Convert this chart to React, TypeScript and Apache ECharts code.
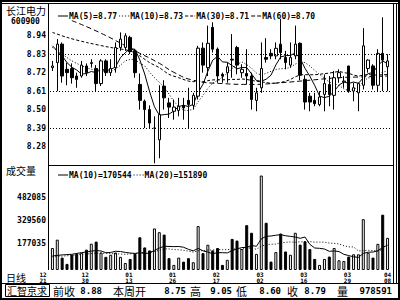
import { useEffect, useRef } from 'react';
import * as echarts from 'echarts';

const stockName = '长江电力';
const stockCode = '600900';
const volumeTitle = '成交量';
const periodLabel = '日线';
const brokerName = '汇智京求';

const opens = [
  8.75, 8.78, 8.89, 8.74, 8.745, 8.70, 8.70, 8.76, 8.775, 8.745,
  8.655, 8.79, 8.72, 8.75, 8.87, 8.87, 8.93, 8.85, 8.65, 8.55,
  8.50, 8.39, 8.32, 8.64, 8.54, 8.49, 8.495, 8.525, 8.555, 8.525,
  8.58, 8.866, 8.75, 8.99, 8.86, 8.71, 8.72, 8.80, 8.87, 8.72,
  8.715, 8.70, 8.555, 8.63, 8.81, 8.835, 8.82, 8.89, 8.81, 8.765,
  8.82, 8.895, 8.68, 8.58, 8.555, 8.53, 8.59, 8.65, 8.585, 8.69,
  8.665, 8.76, 8.61, 8.60, 8.645, 8.745, 8.76, 8.645, 8.835, 8.755,
];
const closes = [
  8.76, 8.89, 8.70, 8.72, 8.69, 8.68, 8.765, 8.72, 8.78, 8.655,
  8.79, 8.72, 8.745, 8.87, 8.92, 8.94, 8.845, 8.72, 8.555, 8.50,
  8.42, 8.39, 8.47, 8.57, 8.515, 8.515, 8.52, 8.51, 8.53, 8.585,
  8.866, 8.765, 8.895, 8.86, 8.70, 8.70, 8.755, 8.795, 8.765, 8.74,
  8.70, 8.56, 8.60, 8.745, 8.80, 8.82, 8.865, 8.84, 8.78, 8.81,
  8.89, 8.705, 8.545, 8.545, 8.535, 8.575, 8.655, 8.59, 8.69, 8.72,
  8.67, 8.61, 8.63, 8.655, 8.88, 8.795, 8.645, 8.835, 8.795, 8.79,
];
const lows = [
  8.73, 8.61, 8.66, 8.645, 8.655, 8.63, 8.69, 8.70, 8.75, 8.605,
  8.64, 8.70, 8.70, 8.72, 8.85, 8.85, 8.83, 8.69, 8.50, 8.39,
  8.39, 8.18, 8.21, 8.50, 8.45, 8.44, 8.46, 8.44, 8.39, 8.50,
  8.56, 8.72, 8.70, 8.84, 8.66, 8.66, 8.66, 8.69, 8.71, 8.69,
  8.65, 8.50, 8.49, 8.60, 8.78, 8.80, 8.80, 8.80, 8.74, 8.75,
  8.80, 8.675, 8.50, 8.49, 8.52, 8.52, 8.49, 8.52, 8.50, 8.66,
  8.63, 8.60, 8.55, 8.49, 8.62, 8.72, 8.62, 8.61, 8.61, 8.61,
];
const highs = [
  8.79, 8.92, 8.90, 8.78, 8.775, 8.72, 8.79, 8.775, 8.80, 8.765,
  8.80, 8.80, 8.80, 8.90, 8.96, 8.955, 8.94, 8.86, 8.715, 8.56,
  8.525, 8.46, 8.645, 8.675, 8.57, 8.56, 8.57, 8.57, 8.63, 8.60,
  8.88, 8.90, 9.00, 9.02, 8.87, 8.72, 8.78, 8.95, 8.88, 8.77,
  8.86, 8.72, 8.63, 8.90, 8.925, 8.86, 8.90, 9.04, 8.85, 8.90,
  9.00, 8.90, 8.705, 8.60, 8.60, 8.61, 8.71, 8.70, 8.73, 8.74,
  8.70, 8.76, 8.66, 8.66, 8.985, 8.80, 8.77, 8.86, 9.05, 8.83,
];
const volumes = [
  147000, 203000, 83000, 41000, 102000, 108000, 115000, 136000, 176000, 190000,
  117000, 88000, 102000, 117000, 88000, 47000, 74000, 108000, 219000, 151000,
  131000, 278000, 253000, 237000, 79000, 34000, 83000, 56000, 79000, 52000,
  294000, 113000, 169000, 131000, 147000, 34000, 68000, 208000, 197000, 140000,
  300000, 249000, 108000, 632000, 316000, 56000, 120000, 244000, 124000, 102000,
  249000, 170000, 192000, 140000, 74000, 34000, 74000, 90000, 147000, 65000,
  60000, 90000, 105000, 105000, 340000, 115000, 83000, 175000, 370000, 215000,
];

// moving-average values read off the picture where the window has no data yet
const ma5Lead: [number, number][] = [[0, 8.88], [1, 8.85], [2, 8.82], [3, 8.78]];
const ma10Lead: [number, number][] = [[0, 8.87], [2, 8.83], [4, 8.79], [6, 8.76], [8, 8.74]];
const ma30Lead: [number, number][] = [
  [0, 8.96], [3, 8.93], [7, 8.90], [12, 8.87], [16, 8.85], [18, 8.82],
  [20, 8.78], [22, 8.75], [24, 8.71], [26, 8.69], [28, 8.67],
];
const ma60Read: [number, number][] = [
  [4, 9.03], [10, 8.955], [17, 8.85], [22, 8.776], [25, 8.722], [29, 8.675],
  [35, 8.655], [41, 8.65], [47, 8.66], [53, 8.675], [59, 8.69], [64, 8.695], [69, 8.70],
];
const volMa10Lead: [number, number][] = [[0, 94000], [2, 101000], [4, 105000], [6, 116000], [8, 126000]];
const volMa20Lead: [number, number][] = [
  [0, 88000], [3, 95000], [6, 104000], [9, 113000], [12, 110000], [15, 105000], [18, 113000],
];

const gridPrices = [8.83, 8.61, 8.39];
const priceLegend: [string, string][] = [['MA(5)', '8.77'], ['MA(10)', '8.73'], ['MA(30)', '8.71'], ['MA(60)', '8.70']];
const volumeLegend: [string, string][] = [['MA(10)', '170544'], ['MA(20)', '151890']];
const dateTicks: [number, string, string][] = [
  [-3, '12', '21'], [6, '12', '30'], [15, '01', '13'], [24, '01', '26'], [33, '02', '17'],
  [42, '03', '02'], [51, '03', '16'], [60, '03', '29'], [69, '04', '08'],
];
const statusLabels = ['前收', '本周开', '高', '低', '收', '量'];
const statusValues = ['8.88', '8.75', '9.05', '8.60', '8.79', '978591'];

const MONO = 'DejaVu Sans Mono';
const CJK = 'Noto Sans CJK SC';

const ICON_SOLID = 'path://M0 0H10V1H0Z';
const ICON_DOT = 'path://M0 0H1V1H0Z M3 0H4V1H3Z M6 0H7V1H6Z M9 0H10V1H9Z';
const ICON_SHORTDASH = 'path://M0 0H3V1H0Z M5 0H8V1H5Z M9.5 0H10V1H9.5Z';
const ICON_DASH = 'path://M0 0H4V1H0Z M6 0H10V1H6Z';

function withMovingAverage(values: number[], n: number, lead: [number, number][]) {
  const out: [number, number][] = lead.slice();
  for (let i = n - 1; i < values.length; i++) {
    let s = 0;
    for (let k = i - n + 1; k <= i; k++) s += values[k];
    out.push([i, s / n]);
  }
  return out;
}

function buildOption() {
  const categories = closes.map((_, i) => String(i));
  const tickMap: Record<number, string> = {};
  dateTicks.forEach(([i, m, d]) => { if (i >= 0) tickMap[i] = m + '\n' + d; });
  const firstTick = dateTicks.find((t) => t[0] < 0)!;

  const priceIcons = [ICON_SOLID, ICON_DOT, ICON_SHORTDASH, ICON_DASH];
  const volNames = ['VMA10', 'VMA20'];
  const volIcons = [ICON_SOLID, ICON_DOT];

  const lineBase = (name: string, data: any, type: any, grid: number, smooth: any = false) => ({
    name, type: 'line', data, xAxisIndex: grid, yAxisIndex: grid,
    symbol: 'none', showSymbol: false, smooth, silent: true,
    lineStyle: { color: '#000', width: 1, type },
    itemStyle: { color: '#000' },
    z: 3,
  });

  const txt = (text: string, x: number, y: number, size: number, family: string, extra: any = {}) => ({
    type: 'text', x, y, silent: true,
    style: {
      text, fontSize: size, fontFamily: family, fill: '#000', lineHeight: size,
      align: 'left', verticalAlign: 'middle', ...extra,
    },
  });
  const ln = (x1: number, y1: number, x2: number, y2: number, w = 1) => ({
    type: 'line', silent: true, shape: { x1, y1, x2, y2 }, style: { stroke: '#000', lineWidth: w },
  });

  const statusX = [53, 113, 190, 236, 287, 337];
  const statusRight = [102, 186, 232, 281, 326, 392];
  const statusEls: any[] = [];
  statusLabels.forEach((l, k) => {
    statusEls.push(txt(l, statusX[k], 290.5, 11, CJK));
    statusEls.push(txt(statusValues[k], statusRight[k], 290.5, 9, MONO, { align: 'right', fontWeight: 'bold' }));
  });

  const legendText = { fontFamily: MONO, fontWeight: 'bold', fontSize: 8, color: '#000', padding: [0, 0, 0, -4] };

  return {
    animation: false,
    backgroundColor: '#fff',
    grid: [
      { left: 50, width: 340, top: 3, height: 162, outerBoundsMode: 'none', containLabel: false },
      { left: 50, width: 340, top: 165, height: 124.13, outerBoundsMode: 'none', containLabel: false },
    ],
    xAxis: [
      {
        type: 'category', gridIndex: 0, data: categories, boundaryGap: true,
        axisLine: { show: false }, axisTick: { show: false }, axisLabel: { show: false }, splitLine: { show: false },
      },
      {
        type: 'category', gridIndex: 1, data: categories, boundaryGap: true, offset: -19.13,
        axisLine: { show: false, onZero: false }, axisTick: { show: false }, splitLine: { show: false },
        axisLabel: {
          interval: (i: number) => tickMap[i] !== undefined,
          formatter: (_v: string, i: number) => tickMap[i] || '',
          fontFamily: MONO, fontWeight: 'bold', fontSize: 6, lineHeight: 5.5,
          color: '#000', margin: 2, align: 'left', alignMaxLabel: 'center',
          verticalAlign: 'top', showMaxLabel: true, hideOverlap: false,
        },
      },
    ],
    yAxis: [
      {
        type: 'value', gridIndex: 0, min: 8.17, max: 9.135, interval: 0.11, scale: true,
        axisLine: { show: false }, axisTick: { show: false }, splitLine: { show: false },
        axisLabel: {
          formatter: (v: number) => (v < 8.2 || v > 9.0 ? '' : v.toFixed(2)),
          fontFamily: MONO, fontWeight: 'bold', fontSize: 8, color: '#000', margin: 4,
          showMinLabel: true, showMaxLabel: true,
        },
      },
      {
        type: 'value', gridIndex: 1, min: -128015, max: 702400, interval: 152525,
        axisLine: { show: false }, axisTick: { show: false }, splitLine: { show: false },
        axisLabel: {
          formatter: (v: number) => (v > 100000 && v < 600000 ? String(Math.round(v)) : ''),
          fontFamily: MONO, fontWeight: 'bold', fontSize: 8, color: '#000', margin: 4,
          padding: [4, 0, 0, 0],
        },
      },
    ],
    legend: [
      {
        data: priceLegend.map((p, k) => ({ name: p[0], icon: priceIcons[k] })),
        left: 58, top: 12, padding: 0, itemGap: 2, itemWidth: 10, itemHeight: 1,
        selectedMode: false,
        formatter: (name: string) => name + '=' + (priceLegend.find((p) => p[0] === name) || ['', ''])[1],
        textStyle: legendText,
      },
      {
        data: volNames.map((n, k) => ({ name: n, icon: volIcons[k] })),
        left: 58, top: 171, padding: 0, itemGap: 2, itemWidth: 10, itemHeight: 1,
        selectedMode: false,
        formatter: (name: string) => {
          const k = volNames.indexOf(name);
          return volumeLegend[k][0] + '=' + volumeLegend[k][1];
        },
        textStyle: legendText,
      },
    ],
    series: [
      {
        name: 'K', type: 'candlestick', xAxisIndex: 0, yAxisIndex: 0, barWidth: 3, silent: true,
        data: opens.map((o, i) => [o, closes[i], lows[i], highs[i]]),
        itemStyle: { color: '#fff', color0: '#000', borderColor: '#000', borderColor0: '#000', borderWidth: 1 },
        z: 4,
        markLine: {
          silent: true, symbol: ['none', 'none'], animation: false,
          label: { show: false },
          lineStyle: { color: '#000', width: 1, type: [1, 2] },
          data: gridPrices.map((v) => ({ yAxis: v })),
        },
      },
      lineBase('MA(5)', withMovingAverage(closes, 5, ma5Lead), 'solid', 0),
      lineBase('MA(10)', withMovingAverage(closes, 10, ma10Lead), [1, 2], 0),
      lineBase('MA(30)', withMovingAverage(closes, 30, ma30Lead), [3, 2], 0, 0.3),
      lineBase('MA(60)', ma60Read, [5, 3], 0, true),
      {
        name: 'VOL', type: 'bar', xAxisIndex: 1, yAxisIndex: 1, barWidth: 3, silent: true,
        data: volumes.map((v, i) => ({
          value: v,
          itemStyle: closes[i] >= opens[i]
            ? { color: '#fff', borderColor: '#000', borderWidth: 1 }
            : { color: '#000', borderColor: '#000', borderWidth: 1 },
        })),
      },
      lineBase('VMA10', withMovingAverage(volumes, 10, volMa10Lead), 'solid', 1),
      lineBase('VMA20', withMovingAverage(volumes, 20, volMa20Lead), [1, 2], 1),
    ],
    graphic: {
      elements: [
        { type: 'rect', silent: true, shape: { x: 1, y: 1, width: 398, height: 298 }, style: { fill: 'none', stroke: '#000', lineWidth: 2 } },
        ln(2, 3.5, 398, 3.5),
        ln(396.5, 3, 396.5, 284),
        ln(393.5, 3.5, 393.5, 283.5),
        ln(2, 283.5, 398, 283.5),
        ln(48.5, 3.5, 48.5, 270),
        ln(48.5, 165.5, 393.5, 165.5),
        { type: 'rect', silent: true, shape: { x: 5.5, y: 284.5, width: 44, height: 12 }, style: { fill: 'none', stroke: '#000', lineWidth: 1 } },
        txt(stockName, 6, 10, 10, CJK),
        txt(stockCode, 11, 21, 8, MONO, { fontWeight: 'bold' }),
        txt(volumeTitle, 6, 170, 10, CJK),
        txt(periodLabel, 6, 277, 10, CJK),
        txt(brokerName, 7, 290.5, 10, CJK),
        txt(firstTick[1] + '\n' + firstTick[2], 39.5, 272, 6, MONO, { fontWeight: 'bold', verticalAlign: 'top', lineHeight: 5.5 }),
        ...statusEls,
      ],
    },
  };
}

export default function App() {
  const ref = useRef<HTMLDivElement>(null);
  useEffect(() => {
    const chart = echarts.init(ref.current!, null, { renderer: 'svg' });
    chart.setOption(buildOption() as any);
    return () => chart.dispose();
  }, []);
  return <div ref={ref} style={{ position: 'fixed', left: 0, top: 0, width: 400, height: 300 }} />;
}
